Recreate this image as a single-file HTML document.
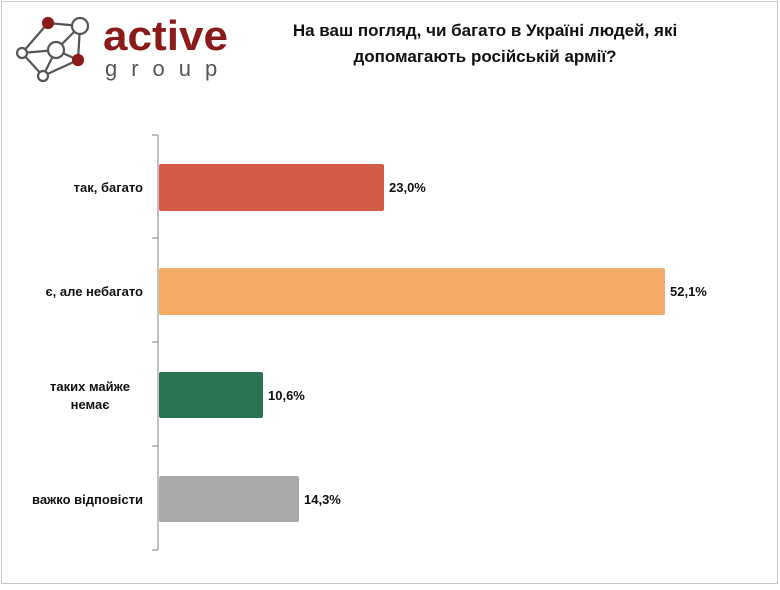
<!DOCTYPE html>
<html><head><meta charset="utf-8"><style>
body{margin:0;width:780px;height:585px;background:#fff;font-family:"Liberation Sans",sans-serif;overflow:hidden}
</style></head><body>
<svg width="780" height="585" xmlns="http://www.w3.org/2000/svg" font-family="Liberation Sans, sans-serif">
<rect x="1.5" y="1.5" width="776" height="582" fill="#fff" stroke="#c8c8c8"/>
<g stroke="#555" stroke-width="2.2" fill="#fff">
<line x1="48" y1="23" x2="80" y2="26"/><line x1="48" y1="23" x2="22" y2="53"/><line x1="80" y1="26" x2="56" y2="50"/><line x1="80" y1="26" x2="78" y2="60"/>
<line x1="22" y1="53" x2="56" y2="50"/><line x1="22" y1="53" x2="43" y2="76"/><line x1="56" y1="50" x2="43" y2="76"/><line x1="56" y1="50" x2="78" y2="60"/><line x1="43" y1="76" x2="78" y2="60"/>
<circle cx="80" cy="26" r="8"/><circle cx="56" cy="50" r="8"/><circle cx="22" cy="53" r="5"/><circle cx="43" cy="76" r="5"/>
<circle cx="48" cy="23" r="5" fill="#8b1a1a" stroke="#8b1a1a"/><circle cx="78" cy="60" r="5" fill="#8b1a1a" stroke="#8b1a1a"/>
</g>
<text x="103" y="50" font-size="42" font-weight="bold" fill="#8b1a1a" textLength="125" lengthAdjust="spacingAndGlyphs">active</text>
<text x="105" y="76" font-size="22" fill="#555" letter-spacing="14">group</text>
<text x="485" y="36" font-size="17" font-weight="bold" text-anchor="middle" fill="#111">На ваш погляд, чи багато в Україні людей, які</text>
<text x="485" y="62" font-size="17" font-weight="bold" text-anchor="middle" fill="#111">допомагають російській армії?</text>
<g stroke="#999" stroke-width="1.2">
<line x1="158" y1="135" x2="158" y2="550"/>
<line x1="152" y1="135" x2="158" y2="135"/><line x1="152" y1="238" x2="158" y2="238"/><line x1="152" y1="342" x2="158" y2="342"/><line x1="152" y1="446" x2="158" y2="446"/><line x1="152" y1="550" x2="158" y2="550"/>
</g>
<rect x="159" y="164" width="225" height="47" rx="2" fill="#d35b48"/>
<rect x="159" y="268" width="506" height="47" rx="2" fill="#f3ab67"/>
<rect x="159" y="372" width="104" height="46" rx="2" fill="#2b7352"/>
<rect x="159" y="476" width="140" height="46" rx="2" fill="#a9a9a9"/>
<g font-size="13" font-weight="bold" fill="#111">
<text x="389" y="192">23,0%</text><text x="670" y="296">52,1%</text><text x="268" y="400">10,6%</text><text x="304" y="504">14,3%</text>
</g>
<g font-size="13" font-weight="bold" fill="#111">
<text x="143" y="192" text-anchor="end">так, багато</text>
<text x="143" y="296" text-anchor="end">є, але небагато</text>
<text x="90" y="391" text-anchor="middle">таких майже</text>
<text x="90" y="409" text-anchor="middle">немає</text>
<text x="143" y="504" text-anchor="end">важко відповісти</text>
</g>
</svg>
</body></html>
